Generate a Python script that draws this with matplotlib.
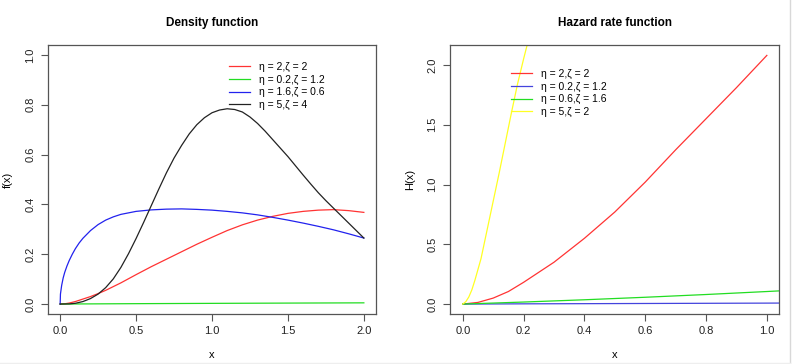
import matplotlib
matplotlib.use("Agg")
import matplotlib.pyplot as plt
from matplotlib.lines import Line2D

plt.rcParams['font.family'] = ['Liberation Sans', 'DejaVu Sans']

# ---------------- Density function data ----------------
dens_x_red = [0, 0.03, 0.06, 0.1, 0.15, 0.2, 0.25, 0.3, 0.4, 0.5, 0.6, 0.7, 0.8, 0.9,
              1.0, 1.1, 1.2, 1.3, 1.4, 1.5, 1.6, 1.7, 1.8, 1.9, 2.0]
dens_red = [0, 0.001, 0.004, 0.01, 0.02, 0.03, 0.042, 0.055, 0.085, 0.118, 0.15, 0.18, 0.21, 0.24,
            0.268, 0.295, 0.318, 0.337, 0.352, 0.364, 0.372, 0.377, 0.379, 0.375, 0.368]

dens_x_green = [0, 0.5, 1.0, 1.5, 2.0]
dens_green = [0, 0.0015, 0.0027, 0.0038, 0.0048]

dens_x_blue = [0, 0.002, 0.01, 0.02, 0.03, 0.045, 0.06, 0.08, 0.1, 0.125, 0.15, 0.2, 0.25, 0.3, 0.35,
               0.4, 0.5, 0.6, 0.7, 0.8, 0.9,
               1.0, 1.1, 1.2, 1.3, 1.4, 1.5, 1.6, 1.7, 1.8, 1.9, 2.0]
dens_blue = [0, 0.04, 0.075, 0.105, 0.127, 0.153, 0.175, 0.2, 0.222, 0.245, 0.264, 0.295, 0.319, 0.337,
             0.35, 0.36, 0.372, 0.378, 0.381, 0.382, 0.38, 0.377, 0.372, 0.366, 0.358, 0.348, 0.337,
             0.325, 0.312, 0.298, 0.282, 0.265]

dens_x_black = [0, 0.06, 0.1, 0.15, 0.2, 0.25, 0.3, 0.35, 0.4, 0.45, 0.5, 0.55, 0.6, 0.65, 0.7,
                0.75, 0.8, 0.85, 0.9, 0.95, 1.0, 1.05, 1.1, 1.15, 1.2, 1.25, 1.3, 1.35, 1.4, 1.45,
                1.5, 1.55, 1.6, 1.65, 1.7, 1.75, 1.8, 1.85, 1.9, 1.95, 2.0]
dens_black = [0, 0.0005, 0.003, 0.01, 0.022, 0.04, 0.066, 0.101, 0.147, 0.202, 0.263, 0.328, 0.395,
              0.462, 0.527, 0.586, 0.637, 0.683, 0.72, 0.748, 0.768, 0.779, 0.784, 0.781, 0.771,
              0.751, 0.725, 0.694, 0.66, 0.626, 0.592, 0.555, 0.518, 0.482, 0.447, 0.415, 0.385,
              0.355, 0.325, 0.295, 0.265]

dens_labels = ["η = 2,ζ = 2", "η = 0.2,ζ = 1.2", "η = 1.6,ζ = 0.6", "η = 5,ζ = 4"]
dens_colors = ["#ff3333", "#22dd22", "#2222ee", "#222222"]

# ---------------- Hazard rate function data ----------------
haz_x_red = [0, 0.05, 0.1, 0.15, 0.2, 0.3, 0.4, 0.5, 0.6, 0.7, 0.8, 0.9, 1.0]
haz_red = [0, 0.014, 0.05, 0.105, 0.182, 0.35, 0.55, 0.77, 1.02, 1.29, 1.55, 1.81, 2.08]

haz_x_blue = [0, 0.2, 0.4, 0.6, 0.8, 1.0, 1.1]
haz_blue = [0, 0.002, 0.0035, 0.005, 0.0065, 0.008, 0.009]

haz_x_green = [0, 0.2, 0.4, 0.6, 0.8, 1.0, 1.1]
haz_green = [0, 0.017, 0.036, 0.057, 0.08, 0.105, 0.118]

haz_x_yellow = [0, 0.01, 0.02, 0.03, 0.04, 0.05, 0.06, 0.08, 0.1, 0.12, 0.14, 0.16, 0.18, 0.2, 0.22, 0.24]
haz_yellow = [0, 0.02, 0.06, 0.12, 0.2, 0.29, 0.38, 0.62, 0.86, 1.1, 1.35, 1.6, 1.84, 2.05, 2.25, 2.45]

haz_labels = ["η = 2,ζ = 2", "η = 0.2,ζ = 1.2", "η = 0.6,ζ = 1.6", "η = 5,ζ = 2"]
haz_colors = ["#ff3333", "#4444dd", "#22dd22", "#ffff22"]

dens_xticks = [0.0, 0.5, 1.0, 1.5, 2.0]
dens_yticks = [0.0, 0.2, 0.4, 0.6, 0.8, 1.0]
haz_xticks = [0.0, 0.2, 0.4, 0.6, 0.8, 1.0]
haz_yticks = [0.0, 0.5, 1.0, 1.5, 2.0]

W, H = 794, 364
fig = plt.figure(figsize=(W / 100, H / 100), dpi=100)


def px_axes(l, t, r, b):
    return fig.add_axes([l / W, 1 - b / H, (r - l) / W, (b - t) / H])


def style(ax, xt, yt):
    for s in ax.spines.values():
        s.set_color("#555555")
        s.set_linewidth(0.9)
    ax.set_xticks(xt)
    ax.set_yticks(yt)
    ax.set_xticklabels([f"{v:.1f}" for v in xt])
    ax.set_yticklabels([f"{v:.1f}" for v in yt], rotation=90, va="center")
    ax.tick_params(direction="out", length=5, width=0.8, color="#555555",
                   labelsize=8, labelcolor="#222222", pad=4)


lw = 0.9
ax1 = px_axes(48, 45, 376, 314)
ax1.plot(dens_x_red, dens_red, color=dens_colors[0], lw=lw)
ax1.plot(dens_x_green, dens_green, color=dens_colors[1], lw=lw)
ax1.plot(dens_x_blue, dens_blue, color=dens_colors[2], lw=lw)
ax1.plot(dens_x_black, dens_black, color=dens_colors[3], lw=lw)
ax1.set_xlim(-0.08, 2.08)
ax1.set_ylim(-0.04, 1.04)
style(ax1, dens_xticks, dens_yticks)
ax1.set_title("Density function", fontsize=8.5, fontweight="bold", pad=14)
ax1.set_xlabel("x", fontsize=8, labelpad=10)
ax1.set_ylabel("f(x)", fontsize=8, labelpad=9)
h1 = [Line2D([], [], color=c, lw=lw) for c in dens_colors]
ax1.legend(h1, dens_labels, loc="upper left", bbox_to_anchor=(229 / W, 1 - 62 / H),
           bbox_transform=fig.transFigure, frameon=False, fontsize=7.5,
           handlelength=2.0, handletextpad=0.9, labelspacing=0.25, borderpad=0, borderaxespad=0)

ax2 = px_axes(450, 45, 779, 314)
ax2.plot(haz_x_red, haz_red, color=haz_colors[0], lw=lw)
ax2.plot(haz_x_blue, haz_blue, color=haz_colors[1], lw=lw)
ax2.plot(haz_x_green, haz_green, color=haz_colors[2], lw=lw)
ax2.plot(haz_x_yellow, haz_yellow, color=haz_colors[3], lw=lw)
ax2.set_xlim(-0.042, 1.04)
ax2.set_ylim(-0.083, 2.167)
style(ax2, haz_xticks, haz_yticks)
ax2.set_title("Hazard rate function", fontsize=8.5, fontweight="bold", pad=14)
ax2.set_xlabel("x", fontsize=8, labelpad=10)
ax2.set_ylabel("H(x)", fontsize=8, labelpad=9)
h2 = [Line2D([], [], color=c, lw=lw) for c in haz_colors]
ax2.legend(h2, haz_labels, loc="upper left", bbox_to_anchor=(511 / W, 1 - 69 / H),
           bbox_transform=fig.transFigure, frameon=False, fontsize=7.5,
           handlelength=2.0, handletextpad=0.9, labelspacing=0.25, borderpad=0, borderaxespad=0)

# faint image border on the right and bottom, as in the reference
fig.add_artist(Line2D([789.5 / W, 789.5 / W], [0, 1], transform=fig.transFigure,
                      color="#d8d8d8", lw=1))
fig.add_artist(Line2D([0, 789.5 / W], [1.5 / H, 1.5 / H], transform=fig.transFigure,
                      color="#eeeeee", lw=1))

fig.savefig("out.png", dpi=100)
